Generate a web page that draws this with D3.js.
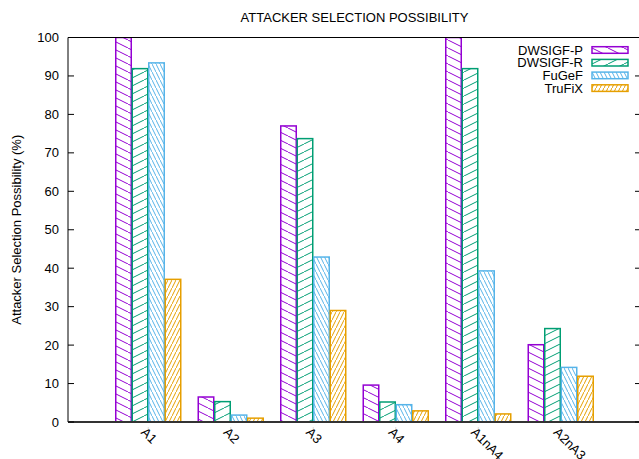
<!DOCTYPE html>
<meta charset="utf-8">
<head>
<style>
    body {margin: 0; background: #fff;}
    text {font-family: "Liberation Sans", Arial, sans-serif; font-size: 13px; fill: #000;}
</style>
</head>
<body>
<div class="chart"></div>
</body>
<script src="https://d3js.org/d3.v7.min.js"></script>
<script>
var categories = ["A1", "A2", "A3", "A4", "A1nA4", "A2nA3"];
var seriesNames = ["DWSIGF-P", "DWSIGF-R", "FuGeF", "TruFiX"];
var dwsigfP = [100, 6.5, 77.0, 9.6, 100, 20.1];
var dwsigfR = [91.9, 5.3, 73.7, 5.2, 91.9, 24.3];
var fugef  = [93.4, 1.8, 42.9, 4.5, 39.3, 14.2];
var trufix = [37.1, 1.0, 29.0, 2.9, 2.1, 11.9];
var yTicks = [0, 10, 20, 30, 40, 50, 60, 70, 80, 90, 100];

var series = [dwsigfP, dwsigfR, fugef, trufix];
var colors = ["#9400d3", "#009e73", "#56b4e9", "#e69f00"];

var W = 639, H = 459;
var plot = {left: 68, right: 641, top: 37.5, bottom: 422};

var svg = d3.select(".chart").append("svg")
    .attr("width", W)
    .attr("height", H);

// hatch patterns, gnuplot style
var hatch = [
    {w: 16, h: 8, d: "M-16,-8L32,16"},
    {w: 16, h: 8, d: "M-16,16L32,-8"},
    {w: 4, h: 8, d: "M-4,-8L8,16"},
    {w: 4, h: 8, d: "M-4,16L8,-8"}
];
var defs = svg.append("defs");
hatch.forEach(function (p, i) {
    defs.append("pattern")
        .attr("id", "pat" + i)
        .attr("patternUnits", "userSpaceOnUse")
        .attr("width", p.w)
        .attr("height", p.h)
        .append("path")
        .attr("d", p.d)
        .attr("stroke", colors[i])
        .attr("stroke-width", 1)
        .attr("fill", "none");
});

var x = d3.scaleBand().domain(categories)
    .range([plot.left, plot.right])
    .paddingInner(0.2)
    .paddingOuter(0.5727);
var xs = d3.scaleBand().domain(d3.range(series.length))
    .range([0, x.bandwidth()]);
var y = d3.scaleLinear().domain([0, 100]).range([plot.bottom, plot.top]);

// bars
defs.append("clipPath").attr("id", "plotclip")
    .append("rect")
    .attr("x", plot.left).attr("y", plot.top)
    .attr("width", plot.right - plot.left).attr("height", plot.bottom - plot.top);

var bars = svg.append("g").attr("clip-path", "url(#plotclip)");
series.forEach(function (vals, si) {
    bars.selectAll(".bar" + si).data(vals).enter().append("rect")
        .attr("class", "bar" + si)
        .attr("x", function (d, i) { return x(categories[i]) + xs(si) + 0.5; })
        .attr("width", xs.bandwidth() - 1)
        .attr("y", function (d) { return y(d); })
        .attr("height", function (d) { return plot.bottom - y(d); })
        .attr("fill", "url(#pat" + si + ")")
        .attr("stroke", colors[si])
        .attr("stroke-width", 1.5);
});

// border and ticks
var ax = svg.append("g");
ax.append("line").attr("x1", plot.left).attr("x2", plot.right)
    .attr("y1", plot.top).attr("y2", plot.top)
    .attr("stroke", "#000").attr("stroke-width", 1);
ax.append("line").attr("x1", plot.left).attr("x2", plot.left)
    .attr("y1", plot.top).attr("y2", plot.bottom)
    .attr("stroke", "#000").attr("stroke-width", 1);
ax.append("line").attr("x1", plot.right).attr("x2", plot.right)
    .attr("y1", plot.top).attr("y2", plot.bottom)
    .attr("stroke", "#000").attr("stroke-width", 1);
ax.append("line").attr("x1", plot.left).attr("x2", plot.right)
    .attr("y1", plot.bottom).attr("y2", plot.bottom)
    .attr("stroke", "#333").attr("stroke-width", 2);

ax.selectAll(".ytl").data(yTicks).enter().append("line")
    .attr("x1", plot.left).attr("x2", plot.left + 6)
    .attr("y1", function (d) { return y(d); })
    .attr("y2", function (d) { return y(d); })
    .attr("stroke", "#000");
ax.selectAll(".ytr").data(yTicks).enter().append("line")
    .attr("x1", plot.right - 6).attr("x2", plot.right)
    .attr("y1", function (d) { return y(d); })
    .attr("y2", function (d) { return y(d); })
    .attr("stroke", "#000");
ax.selectAll(".ylab").data(yTicks).enter().append("text")
    .attr("x", plot.left - 9)
    .attr("y", function (d) { return y(d) + 4.5; })
    .attr("text-anchor", "end")
    .text(function (d) { return d; });

ax.selectAll(".xt").data(categories).enter().append("line")
    .attr("x1", function (d) { return x(d) + x.bandwidth() / 2; })
    .attr("x2", function (d) { return x(d) + x.bandwidth() / 2; })
    .attr("y1", plot.bottom + 5).attr("y2", plot.bottom + 8)
    .attr("stroke", "#ddd");
ax.selectAll(".xlab").data(categories).enter().append("text")
    .attr("transform", function (d) {
        return "translate(" + (x(d) + x.bandwidth() / 2 - 8) + "," + (plot.bottom + 11) + ") rotate(45)";
    })
    .attr("text-anchor", "start")
    .text(function (d) { return d; });

// titles
svg.append("text")
    .attr("x", (plot.left + plot.right) / 2)
    .attr("y", 22)
    .attr("text-anchor", "middle")
    .text("ATTACKER SELECTION POSSIBILITY");
svg.append("text")
    .attr("transform", "translate(21," + ((plot.top + plot.bottom) / 2) + ") rotate(-90)")
    .attr("text-anchor", "middle")
    .text("Attacker Selection Possibility (%)");

// legend
var leg = svg.append("g");
seriesNames.forEach(function (name, i) {
    var cy = 50 + i * 12.7;
    leg.append("text")
        .attr("x", 583).attr("y", cy + 4.5)
        .attr("text-anchor", "end")
        .text(name);
    leg.append("rect")
        .attr("x", 592).attr("y", cy - 3.3)
        .attr("width", 36).attr("height", 6.6)
        .attr("fill", "url(#pat" + i + ")")
        .attr("stroke", colors[i])
        .attr("stroke-width", 1.5);
});
</script>
</body>
